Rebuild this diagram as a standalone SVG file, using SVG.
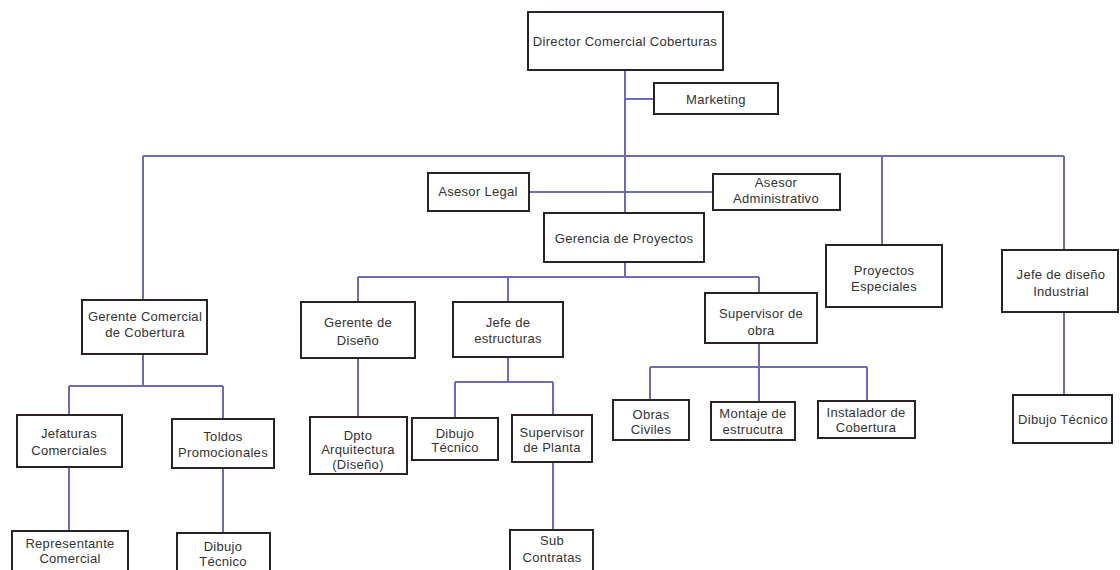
<svg xmlns="http://www.w3.org/2000/svg" width="1120" height="570" viewBox="0 0 1120 570">
  <style>
    .box { fill: #ffffff; stroke: #2b2323; stroke-width: 2; }
    .lbl { font-family: "Liberation Sans", Arial, sans-serif; font-size: 13px; letter-spacing: 0.3px; fill: #333333; text-anchor: middle; }
    .wire { fill: none; stroke: #6b6bb8; stroke-width: 2; }
  </style>
  <rect width="1120" height="570" fill="#ffffff"/>

  <!-- connectors -->
  <g id="connectors" class="wire">
    <path d="M625 70 V213"/>
    <path d="M625 99 H654"/>
    <path d="M143 156 H1064"/>
    <path d="M143 156 V300"/>
    <path d="M882 156 V245"/>
    <path d="M1064 156 V250"/>
    <path d="M1064 312 V395"/>
    <path d="M529 192 H713"/>
    <path d="M625 262 V277"/>
    <path d="M358 277 H759"/>
    <path d="M358 277 V302"/>
    <path d="M508 277 V302"/>
    <path d="M759 277 V293"/>
    <path d="M143 354 V386"/>
    <path d="M69 386 H223"/>
    <path d="M69 386 V415"/>
    <path d="M223 386 V419"/>
    <path d="M69 467 V531"/>
    <path d="M223 468 V533"/>
    <path d="M358 358 V417"/>
    <path d="M508 357 V382"/>
    <path d="M455 382 H553"/>
    <path d="M455 382 V418"/>
    <path d="M553 382 V415"/>
    <path d="M553 462 V530"/>
    <path d="M759 343 V401"/>
    <path d="M650 367 H867"/>
    <path d="M650 367 V400"/>
    <path d="M867 367 V401"/>
  </g>

  <g id="director">
    <rect class="box" x="528" y="12" width="195" height="58"/>
    <text class="lbl" x="625" y="46">Director Comercial Coberturas</text>
  </g>
  <g id="marketing">
    <rect class="box" x="654" y="83" width="124" height="31"/>
    <text class="lbl" x="716" y="104">Marketing</text>
  </g>
  <g id="asesor-legal">
    <rect class="box" x="428" y="173" width="101" height="38"/>
    <text class="lbl" x="478" y="196">Asesor Legal</text>
  </g>
  <g id="asesor-administrativo">
    <rect class="box" x="713" y="174" width="127" height="36"/>
    <text class="lbl" x="776" y="187">Asesor</text>
    <text class="lbl" x="776" y="203">Administrativo</text>
  </g>
  <g id="gerencia-proyectos">
    <rect class="box" x="544" y="213" width="160" height="49"/>
    <text class="lbl" x="624" y="243">Gerencia de Proyectos</text>
  </g>
  <g id="proyectos-especiales">
    <rect class="box" x="826" y="245" width="116" height="62"/>
    <text class="lbl" x="884" y="275">Proyectos</text>
    <text class="lbl" x="884" y="291">Especiales</text>
  </g>
  <g id="jefe-diseno-industrial">
    <rect class="box" x="1002" y="250" width="116" height="62"/>
    <text class="lbl" x="1061" y="279">Jefe de diseño</text>
    <text class="lbl" x="1061" y="296">Industrial</text>
  </g>
  <g id="dibujo-tecnico-industrial">
    <rect class="box" x="1013" y="395" width="99" height="48"/>
    <text class="lbl" x="1063" y="424">Dibujo Técnico</text>
  </g>
  <g id="gerente-comercial">
    <rect class="box" x="82" y="300" width="125" height="54"/>
    <text class="lbl" x="145" y="321">Gerente Comercial</text>
    <text class="lbl" x="145" y="337">de Cobertura</text>
  </g>
  <g id="jefaturas-comerciales">
    <rect class="box" x="17" y="415" width="105" height="52"/>
    <text class="lbl" x="69" y="438">Jefaturas</text>
    <text class="lbl" x="69" y="455">Comerciales</text>
  </g>
  <g id="toldos-promocionales">
    <rect class="box" x="172" y="419" width="102" height="49"/>
    <text class="lbl" x="223" y="441">Toldos</text>
    <text class="lbl" x="223" y="457">Promocionales</text>
  </g>
  <g id="representante-comercial">
    <rect class="box" x="12" y="531" width="116" height="45"/>
    <text class="lbl" x="70" y="548">Representante</text>
    <text class="lbl" x="70" y="563">Comercial</text>
  </g>
  <g id="dibujo-tecnico-toldos">
    <rect class="box" x="177" y="533" width="93" height="45"/>
    <text class="lbl" x="223" y="551">Dibujo</text>
    <text class="lbl" x="223" y="566">Técnico</text>
  </g>
  <g id="gerente-diseno">
    <rect class="box" x="301" y="302" width="114" height="56"/>
    <text class="lbl" x="358" y="327">Gerente de</text>
    <text class="lbl" x="358" y="345">Diseño</text>
  </g>
  <g id="dpto-arquitectura">
    <rect class="box" x="310" y="417" width="97" height="57"/>
    <text class="lbl" x="358" y="440">Dpto</text>
    <text class="lbl" x="358" y="454">Arquitectura</text>
    <text class="lbl" x="358" y="469">(Diseño)</text>
  </g>
  <g id="jefe-estructuras">
    <rect class="box" x="453" y="302" width="110" height="55"/>
    <text class="lbl" x="508" y="327">Jefe de</text>
    <text class="lbl" x="508" y="343">estructuras</text>
  </g>
  <g id="dibujo-tecnico-estructuras">
    <rect class="box" x="412" y="418" width="86" height="42"/>
    <text class="lbl" x="455" y="438">Dibujo</text>
    <text class="lbl" x="455" y="452">Técnico</text>
  </g>
  <g id="supervisor-planta">
    <rect class="box" x="512" y="415" width="80" height="47"/>
    <text class="lbl" x="552" y="437">Supervisor</text>
    <text class="lbl" x="552" y="452">de Planta</text>
  </g>
  <g id="sub-contratas">
    <rect class="box" x="510" y="530" width="83" height="43"/>
    <text class="lbl" x="552" y="545">Sub</text>
    <text class="lbl" x="552" y="562">Contratas</text>
  </g>
  <g id="supervisor-obra">
    <rect class="box" x="705" y="293" width="112" height="50"/>
    <text class="lbl" x="761" y="318">Supervisor de</text>
    <text class="lbl" x="761" y="335">obra</text>
  </g>
  <g id="obras-civiles">
    <rect class="box" x="613" y="400" width="76" height="40"/>
    <text class="lbl" x="651" y="419">Obras</text>
    <text class="lbl" x="651" y="434">Civiles</text>
  </g>
  <g id="montaje-estructura">
    <rect class="box" x="711" y="402" width="84" height="38"/>
    <text class="lbl" x="753" y="418">Montaje de</text>
    <text class="lbl" x="753" y="434">estrucutra</text>
  </g>
  <g id="instalador-cobertura">
    <rect class="box" x="818" y="401" width="97" height="37"/>
    <text class="lbl" x="866" y="417">Instalador de</text>
    <text class="lbl" x="866" y="432">Cobertura</text>
  </g>
</svg>
